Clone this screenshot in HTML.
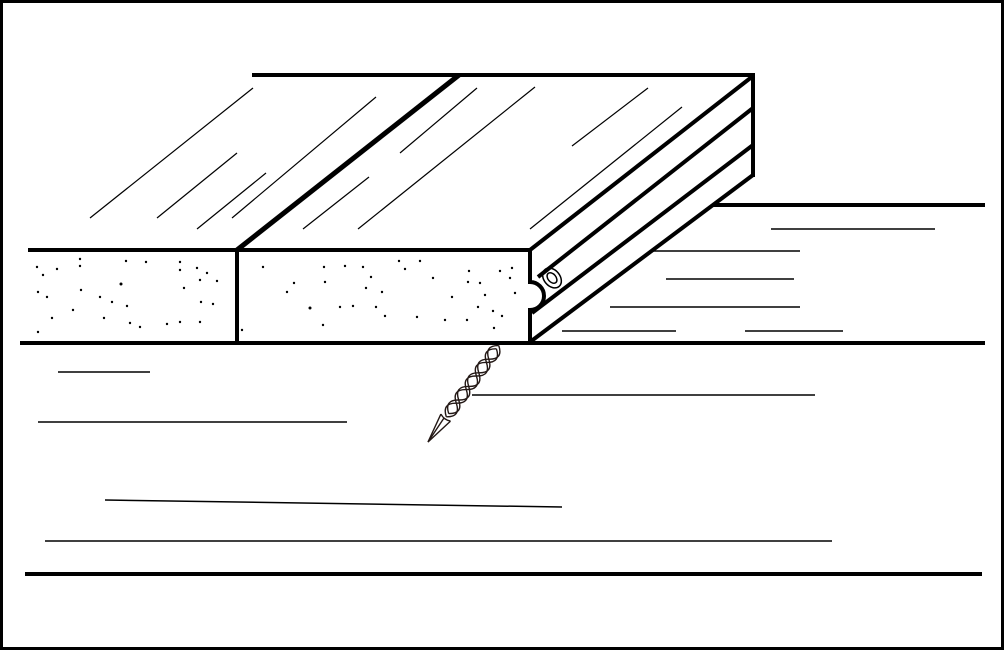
<!DOCTYPE html>
<html><head><meta charset="utf-8"><style>
html,body{margin:0;padding:0;background:#fff;}
svg{display:block;}
</style></head><body>
<svg width="1004" height="650" viewBox="0 0 1004 650" xmlns="http://www.w3.org/2000/svg">
<rect x="1.5" y="1.5" width="1001" height="647" fill="#fff" stroke="#000" stroke-width="3"/>
<g stroke="#000" fill="none" stroke-linecap="butt">
<line x1="252" y1="75" x2="755" y2="75" stroke-width="4"/>
<line x1="753" y1="73" x2="753" y2="177" stroke-width="4"/>
<line x1="28" y1="250" x2="530" y2="250" stroke-width="4"/>
<line x1="237" y1="250" x2="459" y2="75" stroke-width="5"/>
<line x1="237" y1="250" x2="237" y2="343" stroke-width="4"/>
<path d="M530 249 V282 A14 14 0 0 1 530 310 V343" stroke-width="4"/>
<line x1="530" y1="250" x2="753" y2="76" stroke-width="4"/>
<line x1="538" y1="277" x2="753" y2="108" stroke-width="4"/>
<line x1="532" y1="313" x2="753" y2="145" stroke-width="4"/>
<line x1="530" y1="342" x2="753" y2="175" stroke-width="4"/>
<line x1="713" y1="205" x2="985" y2="205" stroke-width="4"/>
<line x1="20" y1="343" x2="985" y2="343" stroke-width="4"/>
<line x1="25" y1="574" x2="982" y2="574" stroke-width="4"/>
<ellipse cx="552" cy="278" rx="8" ry="11" transform="rotate(-40 552 278)" stroke-width="1.5"/>
<ellipse cx="552" cy="278" rx="4" ry="6" transform="rotate(-40 552 278)" stroke-width="1.5"/>
<g stroke-width="1.2">
<line x1="90" y1="218" x2="253" y2="88"/>
<line x1="157" y1="218" x2="237" y2="153"/>
<line x1="197" y1="229" x2="266" y2="173"/>
<line x1="232" y1="218" x2="376" y2="97"/>
<line x1="303" y1="229" x2="369" y2="177"/>
<line x1="358" y1="229" x2="535" y2="87"/>
<line x1="400" y1="153" x2="477" y2="88"/>
<line x1="572" y1="146" x2="648" y2="88"/>
<line x1="530" y1="229" x2="682" y2="107"/>
</g>
<g stroke-width="1.5">
<line x1="771" y1="229" x2="935" y2="229"/>
<line x1="650" y1="251" x2="800" y2="251"/>
<line x1="666" y1="279" x2="794" y2="279"/>
<line x1="610" y1="307" x2="800" y2="307"/>
<line x1="562" y1="331" x2="676" y2="331"/>
<line x1="745" y1="331" x2="843" y2="331"/>
<line x1="58" y1="372" x2="150" y2="372"/>
<line x1="472" y1="395" x2="815" y2="395"/>
<line x1="38" y1="422" x2="347" y2="422"/>
<line x1="105" y1="500" x2="562" y2="507"/>
<line x1="45" y1="541" x2="832" y2="541"/>
</g>
<!-- nail -->
<g stroke="#231815" stroke-width="1.4">
<path d="M493 345 L506 348 L451 421 L428 442 L440 414 Z" fill="#fff" stroke="none"/>
<path d="M498.8 345.6 Q503.4 359.5 488.8 359.2 T478.8 372.8 T468.7 386.4 T458.7 400 T448.7 413.6"/>
<path d="M498.8 345.6 Q484.2 345.3 488.8 359.2 T478.8 372.8 T468.7 386.4 T458.7 400 T448.7 413.6"/>
<g transform="translate(-2.4 3.2)">
<path d="M498.8 345.6 Q503.4 359.5 488.8 359.2 T478.8 372.8 T468.7 386.4 T458.7 400 T448.7 413.6"/>
<path d="M498.8 345.6 Q484.2 345.3 488.8 359.2 T478.8 372.8 T468.7 386.4 T458.7 400 T448.7 413.6"/>
</g>
<path d="M450.5 421.1 L428 442 L440.9 414.1"/>
<path d="M440.9 414.1 Q444 420 450.5 421.1"/>
<line x1="444" y1="418" x2="428" y2="442"/>
</g>
</g>
<g fill="#000">
<circle cx="37" cy="267" r="1.2"/><circle cx="43" cy="275" r="1.2"/><circle cx="57" cy="269" r="1.2"/><circle cx="80" cy="259" r="1.2"/><circle cx="80" cy="266" r="1.2"/><circle cx="126" cy="261" r="1.2"/><circle cx="146" cy="262" r="1.2"/><circle cx="180" cy="262" r="1.2"/><circle cx="180" cy="270" r="1.2"/><circle cx="197" cy="268" r="1.2"/><circle cx="207" cy="273" r="1.2"/><circle cx="217" cy="281" r="1.2"/>
<circle cx="38" cy="292" r="1.2"/><circle cx="47" cy="297" r="1.2"/><circle cx="81" cy="290" r="1.2"/><circle cx="121" cy="284" r="1.5"/><circle cx="184" cy="288" r="1.2"/><circle cx="200" cy="280" r="1.2"/><circle cx="100" cy="297" r="1.2"/><circle cx="112" cy="302" r="1.2"/><circle cx="127" cy="306" r="1.2"/><circle cx="73" cy="310" r="1.2"/><circle cx="52" cy="318" r="1.2"/><circle cx="104" cy="318" r="1.2"/><circle cx="130" cy="323" r="1.2"/><circle cx="140" cy="327" r="1.2"/><circle cx="167" cy="324" r="1.2"/><circle cx="180" cy="322" r="1.2"/><circle cx="201" cy="302" r="1.2"/><circle cx="213" cy="304" r="1.2"/><circle cx="200" cy="322" r="1.2"/><circle cx="38" cy="332" r="1.2"/>
<circle cx="263" cy="267" r="1.2"/><circle cx="324" cy="267" r="1.2"/><circle cx="345" cy="266" r="1.2"/><circle cx="363" cy="267" r="1.2"/><circle cx="399" cy="261" r="1.2"/><circle cx="405" cy="269" r="1.2"/><circle cx="420" cy="261" r="1.2"/><circle cx="371" cy="277" r="1.2"/><circle cx="294" cy="283" r="1.2"/><circle cx="287" cy="292" r="1.2"/><circle cx="325" cy="282" r="1.2"/><circle cx="366" cy="288" r="1.2"/><circle cx="382" cy="292" r="1.2"/><circle cx="433" cy="278" r="1.2"/><circle cx="452" cy="297" r="1.2"/><circle cx="310" cy="308" r="1.5"/><circle cx="340" cy="307" r="1.2"/><circle cx="353" cy="306" r="1.2"/><circle cx="376" cy="307" r="1.2"/><circle cx="385" cy="316" r="1.2"/><circle cx="417" cy="317" r="1.2"/><circle cx="323" cy="325" r="1.2"/><circle cx="445" cy="320" r="1.2"/><circle cx="242" cy="330" r="1.2"/>
<circle cx="469" cy="271" r="1.2"/><circle cx="468" cy="282" r="1.2"/><circle cx="478" cy="307" r="1.2"/><circle cx="480" cy="283" r="1.2"/><circle cx="500" cy="271" r="1.2"/><circle cx="512" cy="268" r="1.2"/><circle cx="515" cy="293" r="1.2"/><circle cx="510" cy="278" r="1.2"/><circle cx="485" cy="295" r="1.2"/><circle cx="493" cy="311" r="1.2"/><circle cx="502" cy="316" r="1.2"/><circle cx="467" cy="320" r="1.2"/><circle cx="494" cy="328" r="1.2"/>
</g>
</svg>
</body></html>
